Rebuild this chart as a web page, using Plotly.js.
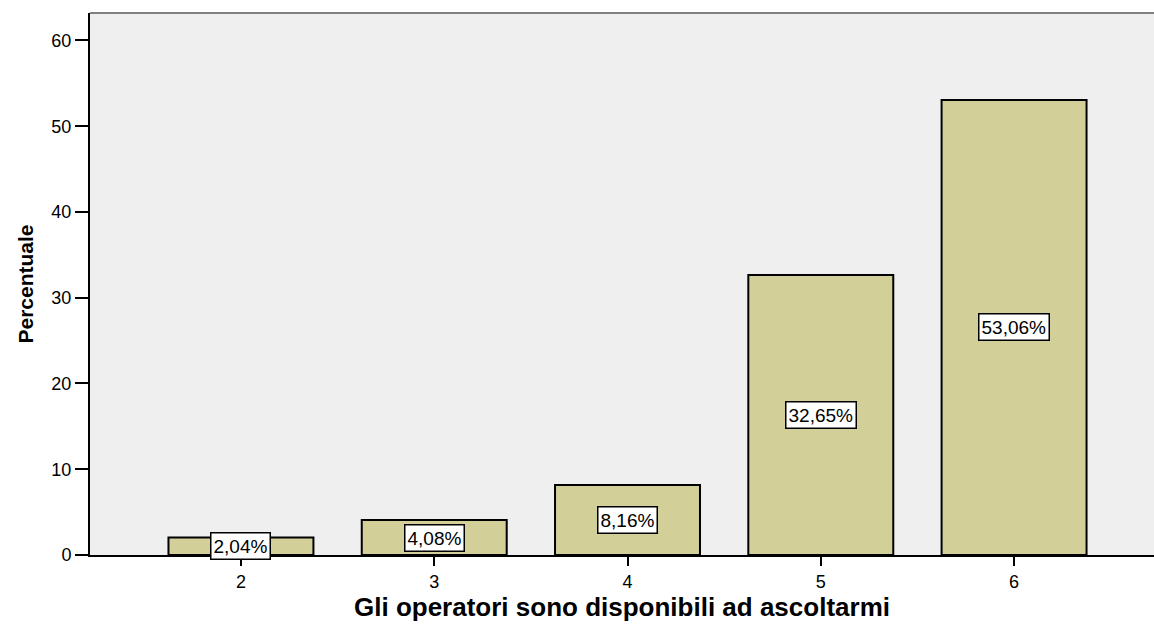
<!DOCTYPE html>
<html>
<head>
<meta charset="utf-8">
<script src="https://cdn.plot.ly/plotly-3.0.1.min.js"></script>
<style>html,body{margin:0;padding:0;background:#fff;}#chart{width:1154px;height:627px;}</style>
</head>
<body>
<div id="chart"></div>
<script>
const categories = [2, 3, 4, 5, 6];
const percentages = [2.04, 4.08, 8.16, 32.65, 53.06];
const tickLabels = ["2", "3", "4", "5", "6"];
const xTitle = "Gli operatori sono disponibili ad ascoltarmi";
const yTitle = "Percentuale";

const fmt = v => v.toFixed(2).replace('.', ',') + '%';
const FONT = 'Arial, Liberation Sans, sans-serif';

const trace = {
  type: 'bar',
  x: categories,
  y: percentages,
  width: 0.75,
  marker: {color: '#d3cf98', line: {color: '#000', width: 2}},
  hoverinfo: 'skip'
};

const annotations = categories.map((c, i) => ({
  x: c, y: percentages[i] / 2, xref: 'x', yref: 'y',
  text: fmt(percentages[i]), showarrow: false,
  font: {family: FONT, size: 19, color: '#000'},
  bgcolor: '#fff', bordercolor: '#000', borderwidth: 1.5, borderpad: 2
}));

const layout = {
  width: 1154, height: 627,
  margin: {l: 90, r: 0, t: 13, b: 72},
  paper_bgcolor: '#fff', plot_bgcolor: '#efefef',
  showlegend: false,
  font: {family: FONT, color: '#000'},
  xaxis: {
    range: [1.219, 6.724], tickvals: categories, ticktext: tickLabels,
    ticks: 'outside', ticklen: 9, tickwidth: 2, tickcolor: '#000',
    showline: true, linecolor: '#000', linewidth: 2, showgrid: false, zeroline: false,
    tickfont: {size: 18}, fixedrange: true,
    title: {text: xTitle, font: {size: 26, family: FONT, weight: 'bold'}, standoff: 6}
  },
  yaxis: {
    range: [0, 63.2], tickvals: [0, 10, 20, 30, 40, 50, 60],
    ticks: 'outside', ticklen: 13, tickwidth: 2, tickcolor: '#000',
    showline: true, linecolor: '#000', linewidth: 2, showgrid: false, zeroline: false,
    tickfont: {size: 18}, fixedrange: true,
    title: {text: yTitle, font: {size: 21, family: FONT, weight: 'bold'}, standoff: 12}
  },
  shapes: [{type: 'line', xref: 'paper', yref: 'paper', x0: 0, x1: 1, y0: 1, y1: 1,
            line: {color: '#808080', width: 2}}],
  annotations: annotations
};

Plotly.newPlot('chart', [trace], layout, {displayModeBar: false, staticPlot: true});
</script>
</body>
</html>
